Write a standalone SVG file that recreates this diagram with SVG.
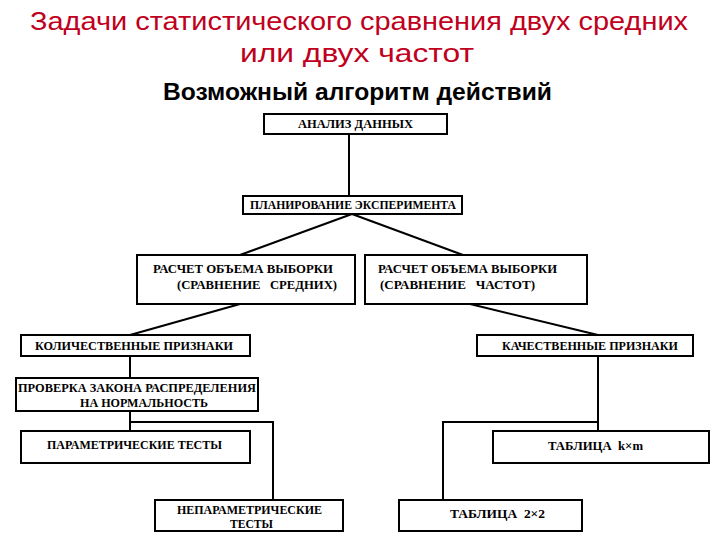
<svg xmlns="http://www.w3.org/2000/svg" width="720" height="540" viewBox="0 0 720 540">
<style>
.t1{font-family:"Liberation Sans",Arial,sans-serif;font-size:25px;fill:#c00020}
.t2{font-family:"Liberation Sans",Arial,sans-serif;font-size:24px;font-weight:bold;fill:#000}
.box{fill:#fff;stroke:#000;stroke-width:2}
.lbl{font-family:"Liberation Serif","Times New Roman",serif;font-size:12px;font-weight:bold;fill:#000;white-space:pre}
.con{fill:none;stroke:#000;stroke-width:2}
</style>
<rect width="720" height="540" fill="#fff"/>
<text class="t1" x="30" y="30" textLength="658" lengthAdjust="spacingAndGlyphs">Задачи статистического сравнения двух средних</text>
<text class="t1" x="240" y="62" textLength="234" lengthAdjust="spacingAndGlyphs">или двух частот</text>
<text class="t2" x="163" y="100" textLength="389" lengthAdjust="spacingAndGlyphs">Возможный алгоритм действий</text>
<g id="connectors">
<path class="con" d="M349 134V196"/>
<path class="con" d="M352 214L240 255M352 214L463 255"/>
<path class="con" d="M240 304L130 335M470 304L598 335"/>
<path class="con" d="M130 356V378M130 411V431M130 422H273V500"/>
<path class="con" d="M598 356V431M598 422H443V500"/>
</g>
<g id="n1"><rect class="box" x="264" y="114" width="183" height="20"/><text class="lbl" x="298" y="128" textLength="115" lengthAdjust="spacingAndGlyphs">АНАЛИЗ ДАННЫХ</text></g>
<g id="n2"><rect class="box" x="243" y="196" width="219" height="18"/><text class="lbl" x="250" y="209" textLength="206" lengthAdjust="spacingAndGlyphs">ПЛАНИРОВАНИЕ ЭКСПЕРИМЕНТА</text></g>
<g id="n3"><rect class="box" x="137" y="255" width="218" height="49"/><text class="lbl" x="153" y="273" textLength="180" lengthAdjust="spacingAndGlyphs">РАСЧЕТ ОБЪЕМА ВЫБОРКИ</text><text class="lbl" x="177" y="289" textLength="160" lengthAdjust="spacingAndGlyphs">(СРАВНЕНИЕ   СРЕДНИХ)</text></g>
<g id="n4"><rect class="box" x="365" y="255" width="222" height="49"/><text class="lbl" x="378" y="273" textLength="179" lengthAdjust="spacingAndGlyphs">РАСЧЕТ ОБЪЕМА ВЫБОРКИ</text><text class="lbl" x="380" y="289" textLength="155" lengthAdjust="spacingAndGlyphs">(СРАВНЕНИЕ   ЧАСТОТ)</text></g>
<g id="n5"><rect class="box" x="21" y="335" width="229" height="21"/><text class="lbl" x="35" y="350" textLength="198" lengthAdjust="spacingAndGlyphs">КОЛИЧЕСТВЕННЫЕ ПРИЗНАКИ</text></g>
<g id="n6"><rect class="box" x="477" y="335" width="216" height="21"/><text class="lbl" x="502" y="350" textLength="176" lengthAdjust="spacingAndGlyphs">КАЧЕСТВЕННЫЕ ПРИЗНАКИ</text></g>
<g id="n7"><rect class="box" x="16" y="378" width="242" height="33"/><text class="lbl" x="18" y="392" textLength="238" lengthAdjust="spacingAndGlyphs">ПРОВЕРКА ЗАКОНА РАСПРЕДЕЛЕНИЯ</text><text class="lbl" x="80" y="407" textLength="128" lengthAdjust="spacingAndGlyphs">НА НОРМАЛЬНОСТЬ</text></g>
<g id="n8"><rect class="box" x="21" y="431" width="229" height="32"/><text class="lbl" x="47" y="449" textLength="175" lengthAdjust="spacingAndGlyphs">ПАРАМЕТРИЧЕСКИЕ ТЕСТЫ</text></g>
<g id="n9"><rect class="box" x="493" y="431" width="216" height="32"/><text class="lbl" x="548" y="450" textLength="95" lengthAdjust="spacingAndGlyphs">ТАБЛИЦА  k×m</text></g>
<g id="n10"><rect class="box" x="155" y="500" width="188" height="31"/><text class="lbl" x="177" y="514" textLength="145" lengthAdjust="spacingAndGlyphs">НЕПАРАМЕТРИЧЕСКИЕ</text><text class="lbl" x="230" y="528" textLength="43" lengthAdjust="spacingAndGlyphs">ТЕСТЫ</text></g>
<g id="n11"><rect class="box" x="399" y="500" width="183" height="31"/><text class="lbl" x="450" y="518" textLength="95" lengthAdjust="spacingAndGlyphs">ТАБЛИЦА  2×2</text></g>
</svg>
